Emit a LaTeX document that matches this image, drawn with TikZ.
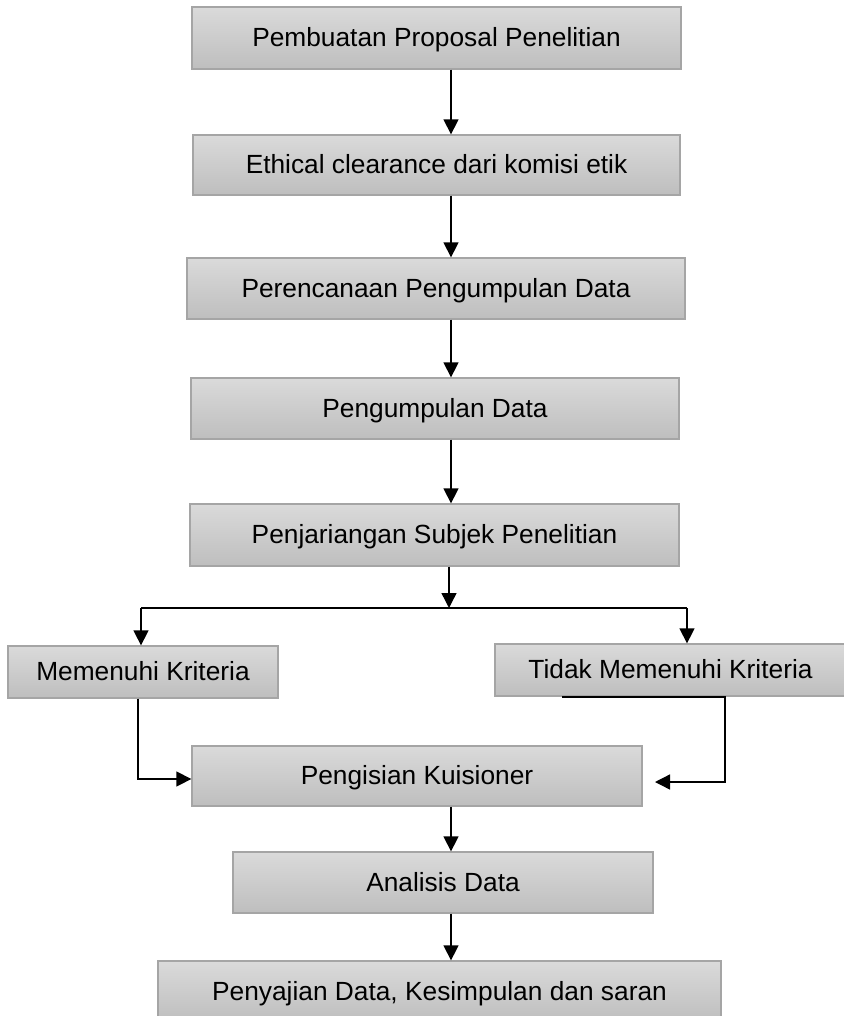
\documentclass[tikz,border=0pt]{standalone}
\usepackage{fontspec}
\setmainfont{Liberation Sans}
\usetikzlibrary{arrows.meta}
\definecolor{boxtop}{RGB}{218,218,218}
\definecolor{boxbot}{RGB}{190,190,190}
\definecolor{boxline}{RGB}{165,165,165}
\tikzset{
  procbox/.style={draw=boxline, line width=1.3pt, top color=boxtop, bottom color=boxbot,
    rectangle, inner sep=0pt, text height=19pt, text depth=2pt,
    font=\fontsize{26.3}{30}\selectfont},
  conn/.style={line width=1.4pt, black},
  arr/.style={conn, -{Triangle[width=15pt,length=15pt]}}
}
\begin{document}
\begin{tikzpicture}[x=1pt,y=-1pt]
\fill[white] (0,0) rectangle (843,1016);
\useasboundingbox (0,0) rectangle (843,1016);
\coordinate (spine) at (451,0);
\node[procbox, minimum width=489pt, minimum height=62pt] (b1) at (436.5,38) {Pembuatan Proposal Penelitian};
\node[procbox, minimum width=487pt, minimum height=60pt] (b2) at (436.5,165) {Ethical clearance dari komisi etik};
\node[procbox, minimum width=498pt, minimum height=61pt] (b3) at (436,288.5) {Perencanaan Pengumpulan Data};
\node[procbox, minimum width=488pt, minimum height=61pt] (b4) at (435,408.5) {Pengumpulan Data};
\node[procbox, minimum width=489pt, minimum height=62pt] (b5) at (434.5,535) {Penjariangan Subjek Penelitian};
\node[procbox, minimum width=270pt, minimum height=52pt] (b6) at (143,672) {Memenuhi Kriteria};
\node[procbox, minimum width=361pt, minimum height=52pt] (b7) at (675.5,670) {Tidak Memenuhi Kriteria\hspace*{10pt}};
\node[procbox, minimum width=450pt, minimum height=60pt] (b8) at (417,776) {Pengisian Kuisioner};
\node[procbox, minimum width=420pt, minimum height=61pt] (b9) at (443,882.5) {Analisis Data};
\node[procbox, minimum width=563pt, minimum height=61pt] (b10) at (439.5,991.5) {Penyajian Data, Kesimpulan dan saran};

\draw[arr] (b1.south -| spine) -- (b2.north -| spine);
\draw[arr] (b2.south -| spine) -- (b3.north -| spine);
\draw[arr] (b3.south -| spine) -- (b4.north -| spine);
\draw[arr] (b4.south -| spine) -- (b5.north -| spine);

\coordinate (brL) at (141,608);
\coordinate (brR) at (687,608);
\coordinate (brM) at (449,608);
\draw[arr] (b5.south -| brM) -- (brM);
\draw[conn] (brL) -- (brR);
\draw[arr] (brL) -- (b6.north -| brL);
\draw[arr] (brR) -- (b7.north -| brR);

\coordinate (lc) at (138,779);
\draw[arr] (b6.south -| lc) -- (lc) -- (lc -| b8.west);
\coordinate (rs) at (562,697);
\coordinate (rc) at (725,782);
\coordinate (re) at (655,782);
\draw[arr] (rs) -- (rs -| rc) -- (rc) -- (re);

\draw[arr] (b8.south -| spine) -- (b9.north -| spine);
\draw[arr] (b9.south -| spine) -- (b10.north -| spine);
\end{tikzpicture}
\end{document}
